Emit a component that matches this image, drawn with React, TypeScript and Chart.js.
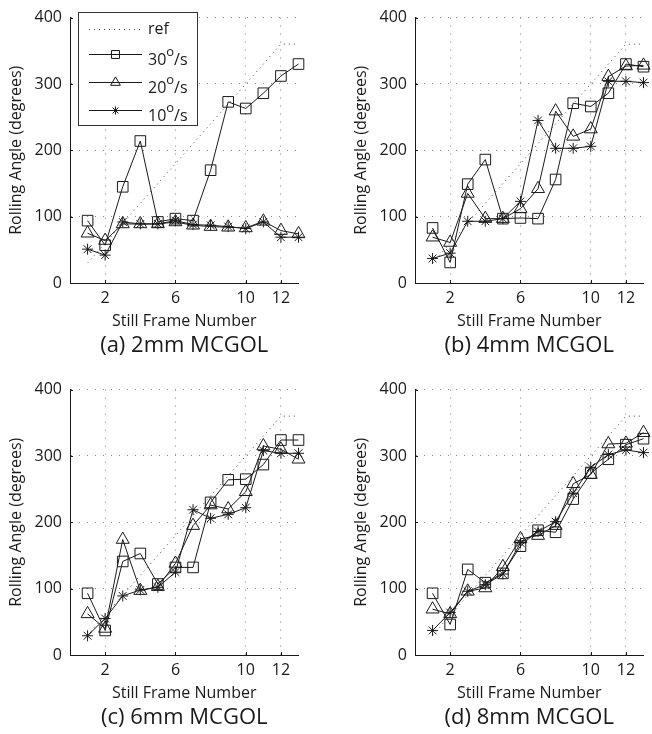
import React, { useEffect, useRef } from 'react';
import { Chart, registerables } from 'chart.js';
import { drawPoint } from 'chart.js/helpers';

Chart.register(...registerables);

// ---------- data ----------
const FRAMES = [1, 2, 3, 4, 5, 6, 7, 8, 9, 10, 11, 12, 13];
const REF = [30, 60, 90, 120, 150, 180, 210, 240, 270, 300, 330, 360, 360];

const A_30 = [94, 57, 145, 214, 92, 97, 94, 170, 273, 263, 286, 312, 330];
const A_20 = [75, 64, 89, 89, 89, 92, 87, 85, 84, 83, 93, 79, 74];
const A_10 = [51, 42, 92, 89, 89, 94, 88, 87, 85, 82, 92, 69, 69];

const B_30 = [83, 31, 149, 186, 97, 98, 97, 156, 271, 266, 286, 330, 326];
const B_20 = [69, 61, 135, 97, 97, 112, 142, 259, 221, 232, 311, 327, 328];
const B_10 = [37, 45, 93, 93, 97, 123, 245, 203, 203, 206, 304, 304, 302];

const C_30 = [93, 37, 141, 153, 107, 132, 132, 230, 264, 265, 287, 324, 324];
const C_20 = [62, 40, 174, 97, 103, 138, 195, 226, 220, 246, 315, 310, 295];
const C_10 = [29, 55, 89, 98, 102, 125, 219, 206, 212, 222, 308, 304, 304];

const D_30 = [93, 46, 129, 109, 123, 164, 188, 185, 235, 274, 295, 317, 326];
const D_20 = [69, 62, 96, 101, 133, 175, 180, 195, 258, 272, 318, 319, 335];
const D_10 = [37, 64, 96, 106, 122, 169, 186, 201, 244, 283, 302, 309, 305];

const X_TICKS = [2, 6, 10, 12];
const Y_TICKS = [0, 100, 200, 300, 400];
const SERIES_LABELS = ['ref', '30°/s', '20°/s', '10°/s'];
const PANEL_TITLES = ['(a) 2mm MCGOL', '(b) 4mm MCGOL', '(c) 6mm MCGOL', '(d) 8mm MCGOL'];
const X_TITLE = 'Still Frame Number';
const Y_TITLE = 'Rolling Angle (degrees)';

// ---------- styles ----------
const FONT = '"Open Sans", "Noto Sans", sans-serif';
const INK = '#1a1a1a';
const GRID = '#8a8a8a';
const W = 307;
const H = 365;

const SERIES_STYLE = [
  { pointStyle: false as any, radius: 0, dash: [1, 4], color: '#444' },
  { pointStyle: 'rect', radius: 7.5, dash: [], color: INK },
  { pointStyle: 'triangle', radius: 7.5, dash: [], color: INK },
  { pointStyle: 'star', radius: 5.5, dash: [], color: INK },
];

const toXY = (vals: number[]) => FRAMES.map((f, i) => ({ x: f, y: vals[i] }));

const decorPlugin = (title: string, showLegend: boolean) => ({
  id: 'decor',
  afterDraw(chart: any) {
    const { ctx, chartArea, scales } = chart;
    const { left, right, bottom } = chartArea;
    ctx.save();
    // inward tick marks
    ctx.strokeStyle = INK;
    ctx.lineWidth = 1;
    ctx.beginPath();
    X_TICKS.forEach((t) => {
      const x = Math.round(scales.x.getPixelForValue(t)) + 0.5;
      ctx.moveTo(x, bottom);
      ctx.lineTo(x, bottom - 3);
    });
    Y_TICKS.forEach((t) => {
      const y = Math.round(scales.y.getPixelForValue(t)) + 0.5;
      ctx.moveTo(left, y);
      ctx.lineTo(left + 3, y);
    });
    ctx.stroke();
    // caption
    ctx.fillStyle = INK;
    ctx.font = `22px ${FONT}`;
    ctx.textAlign = 'center';
    ctx.textBaseline = 'middle';
    ctx.fillText(title, (left + right) / 2, bottom + 63);

    if (showLegend) {
      const bx = 78.5, by = 12.5, bw = 119, bh = 113;
      ctx.fillStyle = '#fff';
      ctx.fillRect(bx, by, bw, bh);
      ctx.strokeStyle = '#333';
      ctx.lineWidth = 1;
      ctx.strokeRect(bx, by, bw, bh);
      const rowY = [29, 54, 82, 110];
      SERIES_LABELS.forEach((lab, i) => {
        const st = SERIES_STYLE[i];
        const y = rowY[i] + 0.5;
        ctx.strokeStyle = st.color;
        ctx.lineWidth = 1;
        ctx.setLineDash(st.dash);
        ctx.beginPath();
        ctx.moveTo(89, y);
        ctx.lineTo(142, y);
        ctx.stroke();
        ctx.setLineDash([]);
        if (st.pointStyle) {
          ctx.fillStyle = 'rgba(0,0,0,0)';
          ctx.strokeStyle = INK;
          drawPoint(ctx, { pointStyle: st.pointStyle, radius: st.radius * 0.75, borderWidth: 1, rotation: 0 } as any, 115.5, y);
        }
        ctx.fillStyle = INK;
        ctx.textAlign = 'left';
        ctx.textBaseline = 'middle';
        const parts = lab.split('°');
        if (parts.length === 2) {
          const ty = y + 6;
          ctx.font = `16px ${FONT}`;
          ctx.fillText(parts[0], 148, ty);
          let x = 148 + ctx.measureText(parts[0]).width;
          ctx.font = `13px ${FONT}`;
          ctx.fillText('o', x, ty - 8);
          x += ctx.measureText('o').width;
          ctx.font = `16px ${FONT}`;
          ctx.fillText(parts[1], x, ty);
        } else {
          ctx.font = `16px ${FONT}`;
          ctx.fillText(lab, 148, y);
        }
      });
    }
    ctx.restore();
  },
});

type PanelProps = {
  s30: number[];
  s20: number[];
  s10: number[];
  title: string;
  legend: boolean;
  left: number;
  top: number;
};

function Panel({ s30, s20, s10, title, legend, left, top }: PanelProps) {
  const ref = useRef<HTMLCanvasElement>(null);
  useEffect(() => {
    const series = [REF, s30, s20, s10];
    const chart = new Chart(ref.current!, {
      type: 'line',
      data: {
        datasets: series.map((vals, i) => {
          const st = SERIES_STYLE[i];
          return {
            label: SERIES_LABELS[i],
            data: toXY(vals),
            borderColor: st.color,
            borderWidth: 1,
            borderDash: st.dash,
            backgroundColor: 'rgba(0,0,0,0)',
            pointStyle: st.pointStyle,
            pointRadius: st.radius,
            pointBorderColor: INK,
            pointBorderWidth: 1,
            pointBackgroundColor: 'rgba(0,0,0,0)',
            tension: 0,
            fill: false,
            clip: false as any,
            order: 4 - i,
          };
        }),
      },
      options: {
        animation: false,
        responsive: false,
        devicePixelRatio: 1,
        layout: { padding: { top: 15, right: 5, left: 0, bottom: 0 } },
        plugins: { legend: { display: false }, tooltip: { enabled: false }, title: { display: false } },
        scales: {
          x: {
            type: 'linear',
            min: 0,
            max: 13,
            afterBuildTicks: (s: any) => {
              s.ticks = X_TICKS.map((v) => ({ value: v }));
            },
            afterFit: (s: any) => {
              s.height = 82;
            },
            ticks: {
              autoSkip: false,
              maxRotation: 0,
              padding: 6,
              color: INK,
              font: { family: FONT, size: 16 },
              callback: (v: any) => String(v),
            },
            grid: { color: GRID, lineWidth: 1, drawTicks: false },
            border: { display: true, color: INK, width: 1, dash: [1, 7] },
            title: {
              display: true,
              text: X_TITLE,
              color: INK,
              font: { family: FONT, size: 16 },
              padding: { top: 0, bottom: 34 },
            },
          },
          y: {
            type: 'linear',
            min: 0,
            max: 400,
            afterBuildTicks: (s: any) => {
              s.ticks = Y_TICKS.map((v) => ({ value: v }));
            },
            afterFit: (s: any) => {
              s.width = 70;
            },
            ticks: {
              padding: 8,
              color: INK,
              font: { family: FONT, size: 16 },
              callback: (v: any) => String(v),
            },
            grid: { color: GRID, lineWidth: 1, drawTicks: false },
            border: { display: true, color: INK, width: 1, dash: [1, 7] },
            title: {
              display: true,
              text: Y_TITLE,
              color: INK,
              font: { family: FONT, size: 16 },
              padding: { top: 7, bottom: 0 },
            },
          },
        },
      },
      plugins: [decorPlugin(title, legend)],
    } as any);
    return () => chart.destroy();
  }, []);
  return (
    <div style={{ position: 'absolute', left, top, width: W, height: H }}>
      <canvas ref={ref} width={W} height={H} style={{ display: 'block' }} />
    </div>
  );
}

export default function App() {
  return (
    <div style={{ position: 'absolute', left: 0, top: 0, width: 652, height: 734, background: '#fff', overflow: 'hidden' }}>
      <Panel s30={A_30} s20={A_20} s10={A_10} title={PANEL_TITLES[0]} legend={true} left={0} top={0} />
      <Panel s30={B_30} s20={B_20} s10={B_10} title={PANEL_TITLES[1]} legend={false} left={345} top={0} />
      <Panel s30={C_30} s20={C_20} s10={C_10} title={PANEL_TITLES[2]} legend={false} left={0} top={372} />
      <Panel s30={D_30} s20={D_20} s10={D_10} title={PANEL_TITLES[3]} legend={false} left={345} top={372} />
    </div>
  );
}
